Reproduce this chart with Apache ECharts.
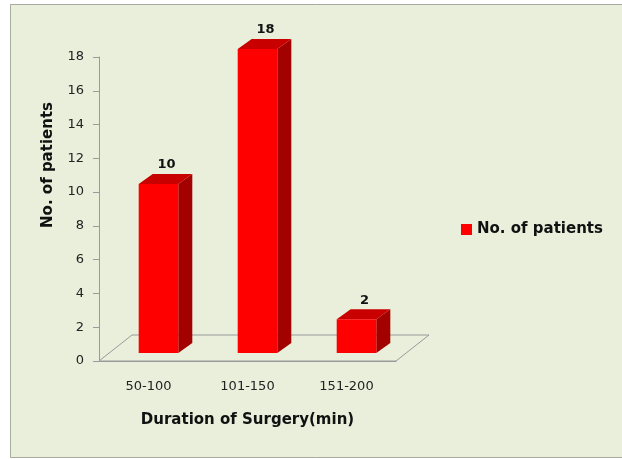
<!DOCTYPE html>
<html>
<head>
<meta charset="utf-8">
<script src="https://cdn.jsdelivr.net/npm/echarts@6/dist/echarts.min.js"></script>
<style>
  html, body { margin: 0; padding: 0; background: #fff; }
  #chart { width: 622px; height: 459px; }
</style>
</head>
<body>
<div id="chart"></div>
<script>
// data
var categories = ['50-100', '101-150', '151-200'];
var patients = [10, 18, 2];
var yTicks = [0, 2, 4, 6, 8, 10, 12, 14, 16, 18];

var FONT = 'DejaVu Sans';
// 3d look
var floorDx = 33, floorDy = -26;   // floor depth
var barOffX = 10, barOffY = -8;     // bar front face from axis
var barDx = 14, barDy = -10;        // bar depth

var chart = echarts.init(document.getElementById('chart'));

var barData = [];
for (var i = 0; i < patients.length; i++) {
    barData.push([i, patients[i]]);
}

var option = {
    animation: false,
    graphic: [{
        type: 'rect',
        z: -10,
        silent: true,
        shape: { x: 10.5, y: 4.5, width: 620, height: 453 },
        style: { fill: '#e9efdb', stroke: '#a7ab9f', lineWidth: 1 }
    }, {
        type: 'text',
        left: 41,
        top: 102,
        rotation: Math.PI / 2,
        style: {
            text: 'No. of patients',
            fill: '#111',
            font: 'bold 15px "DejaVu Sans"'
        }
    }],
    legend: {
        data: ['No. of patients'],
        left: 461,
        top: 222,
        padding: 0,
        icon: 'rect',
        itemWidth: 11,
        itemHeight: 11,
        itemGap: 4,
        textStyle: { fontFamily: FONT, fontWeight: 'bold', fontSize: 15, color: '#111' }
    },
    grid: { left: 99, right: 226, top: 57, bottom: 98 },
    xAxis: {
        type: 'category',
        data: categories,
        name: 'Duration of Surgery(min)',
        nameLocation: 'middle',
        nameGap: 52,
        nameTextStyle: { fontFamily: FONT, fontWeight: 'bold', fontSize: 15, color: '#111' },
        axisLine: { lineStyle: { color: '#9a9a9a', width: 1 } },
        axisTick: { show: false },
        axisLabel: { fontFamily: FONT, fontSize: 13, color: '#222', margin: 19 },
        splitLine: { show: false }
    },
    yAxis: {
        type: 'value',
        min: yTicks[0],
        max: yTicks[yTicks.length - 1],
        interval: 2,
        axisLine: { show: true, lineStyle: { color: '#9a9a9a', width: 1 } },
        axisTick: { show: true, length: 6, lineStyle: { color: '#9a9a9a' } },
        axisLabel: { fontFamily: FONT, fontSize: 13, color: '#222', margin: 15 },
        splitLine: { show: false }
    },
    series: [{
        // floor
        type: 'custom',
        z: 1,
        silent: true,
        data: [[0, 0]],
        renderItem: function (params, api) {
            var bw = api.size([1, 0])[0];
            var p0 = api.coord([0, 0]);
            var p2 = api.coord([categories.length - 1, 0]);
            var x0 = p0[0] - bw / 2, x1 = p2[0] + bw / 2, y = p0[1];
            return {
                type: 'polygon',
                shape: { points: [[x0, y], [x0 + floorDx, y + floorDy], [x1 + floorDx, y + floorDy], [x1, y]] },
                style: { fill: 'none', stroke: '#9a9a9a', lineWidth: 1 }
            };
        }
    }, {
        name: 'No. of patients',
        type: 'custom',
        z: 2,
        itemStyle: { color: '#ff0000' },
        data: barData,
        renderItem: function (params, api) {
            var bw = api.size([1, 0])[0] * 0.4;
            var top = api.coord([api.value(0), api.value(1)]);
            var base = api.coord([api.value(0), 0]);
            var l = top[0] - bw / 2 + barOffX, r = l + bw;
            var t = top[1] + barOffY, b = base[1] + barOffY;
            return {
                type: 'group',
                children: [{
                    type: 'polygon',
                    shape: { points: [[r, t], [r + barDx, t + barDy], [r + barDx, b + barDy], [r, b]] },
                    style: { fill: '#a30000' }
                }, {
                    type: 'polygon',
                    shape: { points: [[l, t], [l + barDx, t + barDy], [r + barDx, t + barDy], [r, t]] },
                    style: { fill: '#c80000' }
                }, {
                    type: 'rect',
                    shape: { x: l, y: t, width: bw, height: b - t },
                    style: { fill: '#ff0000' }
                }, {
                    type: 'text',
                    style: {
                        x: (l + r) / 2 + barDx / 2 + 1,
                        y: t + barDy - 9,
                        text: String(api.value(1)),
                        align: 'center',
                        verticalAlign: 'middle',
                        fill: '#111',
                        font: 'bold 13px "DejaVu Sans"'
                    }
                }]
            };
        }
    }]
};

chart.setOption(option);
</script>
</body>
</html>
